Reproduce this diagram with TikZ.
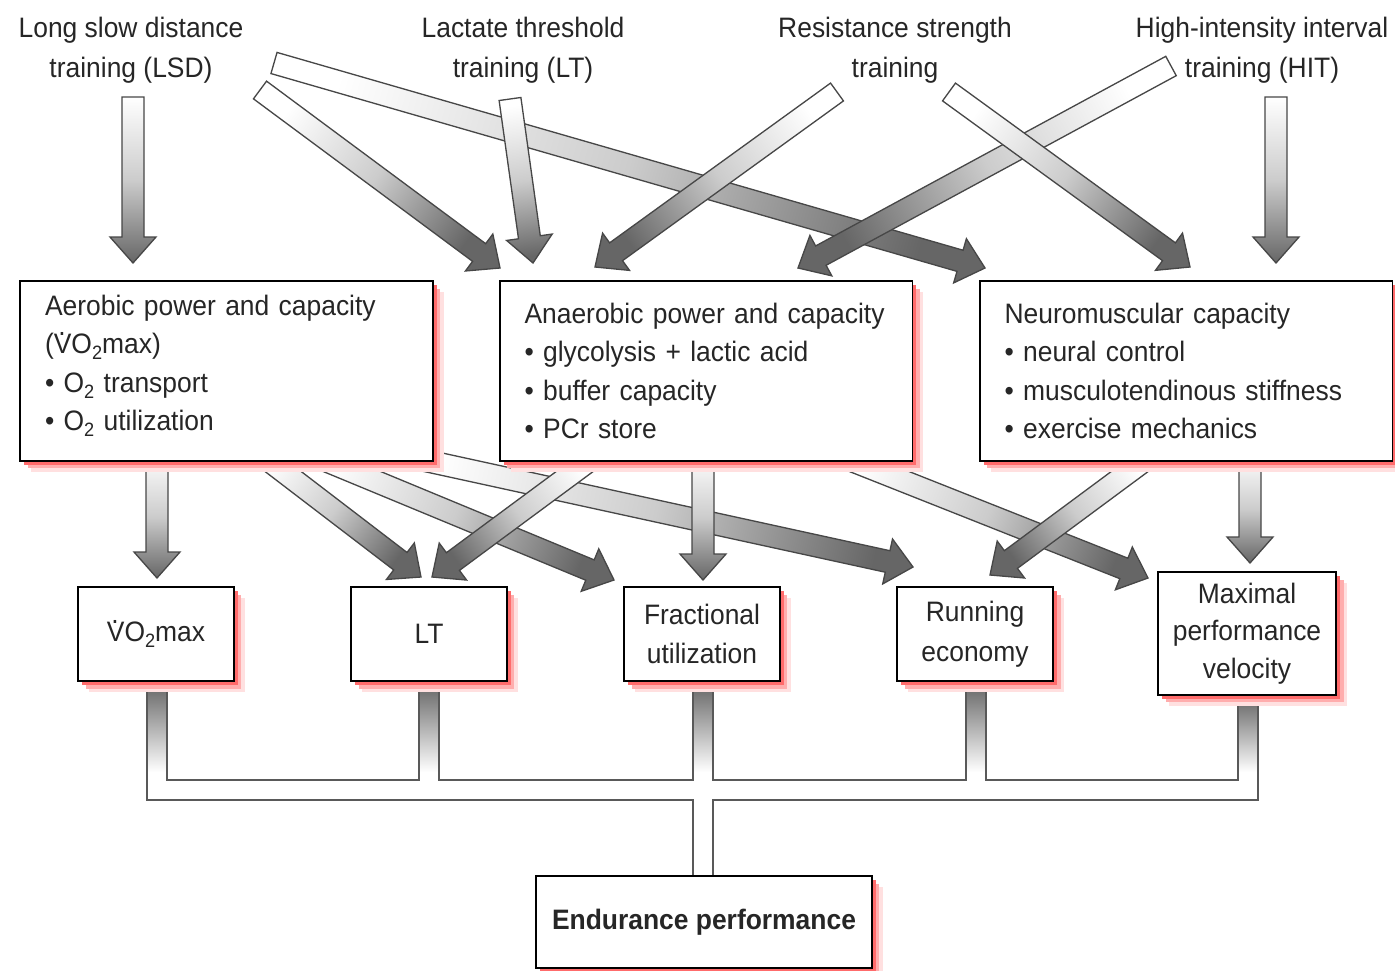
\documentclass[tikz,border=0pt]{standalone}
\usepackage{fontspec}
\setmainfont{Liberation Sans}[FakeStretch=0.94]
\usetikzlibrary{calc,shadows}
\newcommand\mysub[1]{\raisebox{-0.4ex}{\fontsize{11}{11}\selectfont #1}}
\newcommand\vdot{{\makebox[0pt][l]{\hspace{0.16em}\raisebox{0.66em}{.}}V}}
\newcommand\vo{\vdot O\mysub{2}max}
\newcommand\blockarrow[2]{%
  \path let \p1=($(#2)-(#1)$) in \pgfextra{\pgfmathsetmacro\myang{atan2(\y1,\x1)+90}\global\let\myangG\myang};
  \draw[arr, shading angle=\myangG]
    ($(#1)!0.22cm!90:(#2)$) -- ($(#2)!0.52cm!(#1)!0.22cm!90:(#2)$) --
    ($(#2)!0.52cm!(#1)!0.46cm!90:(#2)$) -- (#2) --
    ($(#2)!0.52cm!(#1)!0.46cm!-90:(#2)$) -- ($(#2)!0.52cm!(#1)!0.22cm!-90:(#2)$) --
    ($(#1)!0.22cm!-90:(#2)$) -- cycle;}
\begin{document}
\begin{tikzpicture}[x=0.02cm, y=-0.02cm,
  lbl/.style={align=center, inner sep=0pt, text=black!85, font=\fontsize{16}{22.7}\selectfont},
  redshadow/.style={general shadow={fill=red!12, shadow xshift=0.22cm, shadow yshift=-0.22cm},
                    general shadow={fill=red!32, shadow xshift=0.15cm, shadow yshift=-0.15cm},
                    general shadow={fill=red!58, shadow xshift=0.08cm, shadow yshift=-0.08cm}},
  bigbox/.style={redshadow, draw=black, line width=1.1pt, fill=white, minimum width=8.26cm,
                 minimum height=3.6cm, text width=7.26cm, inner xsep=0.5cm, align=left,
                 text=black!85, font=\fontsize{16}{21.8}\selectfont},
  smallbox/.style={redshadow, draw=black, line width=1.1pt, fill=white, minimum width=3.12cm,
                 minimum height=1.88cm, inner sep=0pt, align=center,
                 text=black!85, font=\fontsize{16}{22.5}\selectfont},
  arr/.style={draw=black!72, line width=0.75pt, line join=miter, top color=white, bottom color=black!60, middle color=white!80!black},
  pipe/.style={draw=black!65, line width=0.8pt},
  pipefill/.style={top color=black!62, bottom color=white}]
\useasboundingbox (0,0) rectangle (1395,970);

% training labels
\node[lbl] (lsd) at (131,50) {Long slow distance\\training (LSD)};
\node[lbl] (ltt) at (523,50) {Lactate threshold\\training (LT)};
\node[lbl] (rst) at (895,50) {Resistance strength\\training};
\node[lbl] (hit) at (1262,50) {High-intensity interval\\training (HIT)};

% top arrow ends
\coordinate (lsdA) at (133,97);   \coordinate (aerIn) at (133,263);
\coordinate (lsdB) at (260,90);   \coordinate (anaInA) at (500,268);
\coordinate (lsdC) at (274,63);   \coordinate (neuInA) at (985,268);
\coordinate (ltA) at (510,99);    \coordinate (anaInB) at (533,263);
\coordinate (rstA) at (837,92);   \coordinate (anaInC) at (595,267);
\coordinate (rstB) at (949,92);   \coordinate (neuInB) at (1190,267);
\coordinate (hitA) at (1171,66);  \coordinate (anaInD) at (798,268);
\coordinate (hitB) at (1276,97);  \coordinate (neuInC) at (1276,263);

\blockarrow{lsdC}{neuInA}
\blockarrow{lsdA}{aerIn}
\blockarrow{lsdB}{anaInA}
\blockarrow{ltA}{anaInB}
\blockarrow{hitA}{anaInD}
\blockarrow{rstA}{anaInC}
\blockarrow{rstB}{neuInB}
\blockarrow{hitB}{neuInC}

% middle arrow ends (tails hidden under boxes)
\coordinate (aerO1) at (157,455);  \coordinate (voIn) at (157,578);
\coordinate (aerO2) at (255,450);  \coordinate (ltIn1) at (421,577);
\coordinate (aerO3) at (300,450);  \coordinate (frIn1) at (614,580);
\coordinate (aerO4) at (400,455);  \coordinate (reIn1) at (913,567);
\coordinate (anaO1) at (597,455);  \coordinate (ltIn2) at (432,577);
\coordinate (anaO2) at (703,455);  \coordinate (frIn2) at (703,580);
\coordinate (anaO3) at (830,452);  \coordinate (mxIn1) at (1148,578);
\coordinate (neuO1) at (1152,455); \coordinate (reIn2) at (990,575);
\coordinate (neuO2) at (1250,455); \coordinate (mxIn2) at (1250,563);

\blockarrow{aerO4}{reIn1}
\blockarrow{aerO3}{frIn1}
\blockarrow{aerO2}{ltIn1}
\blockarrow{aerO1}{voIn}
\blockarrow{anaO3}{mxIn1}
\blockarrow{anaO1}{ltIn2}
\blockarrow{anaO2}{frIn2}
\blockarrow{neuO1}{reIn2}
\blockarrow{neuO2}{mxIn2}

% middle boxes
\node[bigbox] (aer) at (226.5,371) {Aerobic power and capacity\\(\vo)\\• O\mysub{2} transport\\• O\mysub{2} utilization\\[-0.67cm]\strut};
\node[bigbox] (ana) at (706,371) {Anaerobic power and capacity\\• glycolysis + lactic acid\\• buffer capacity\\• PCr store};
\node[bigbox] (neu) at (1186,371) {Neuromuscular capacity\\• neural control\\• musculotendinous stiffness\\• exercise mechanics};

% pipes to endurance performance
\fill[pipefill] (147,681) rectangle (167,772);
\fill[pipefill] (419,681) rectangle (439,772);
\fill[pipefill] (693,681) rectangle (713,772);
\fill[pipefill] (966,681) rectangle (986,772);
\fill[pipefill] (1238,695) rectangle (1258,772);
\draw[pipe] (147,681) |- (693,800) -- (693,876);
\draw[pipe] (1258,695) |- (713,800) -- (713,876);
\draw[pipe] (167,681) |- (419,780) -- (419,681);
\draw[pipe] (439,681) |- (693,780) -- (693,681);
\draw[pipe] (713,681) |- (966,780) -- (966,681);
\draw[pipe] (986,681) |- (1238,780) -- (1238,695);

% bottom boxes
\node[smallbox] (vo) at (156,634) {\vo};
\node[smallbox] (lt) at (429,634) {LT};
\node[smallbox] (fr) at (702,634) {Fractional\\utilization};
\node[smallbox] (re) at (975,634) {Running\\economy};
\node[smallbox, minimum width=3.56cm, minimum height=2.46cm, font=\fontsize{16}{21.5}\selectfont] (mx) at (1247,633.5) {Maximal\\performance\\velocity};
\node[smallbox, minimum width=6.72cm, minimum height=1.84cm, font=\fontsize{16}{20}\selectfont\bfseries] (endu) at (704,922) {Endurance performance};
\end{tikzpicture}
\end{document}
